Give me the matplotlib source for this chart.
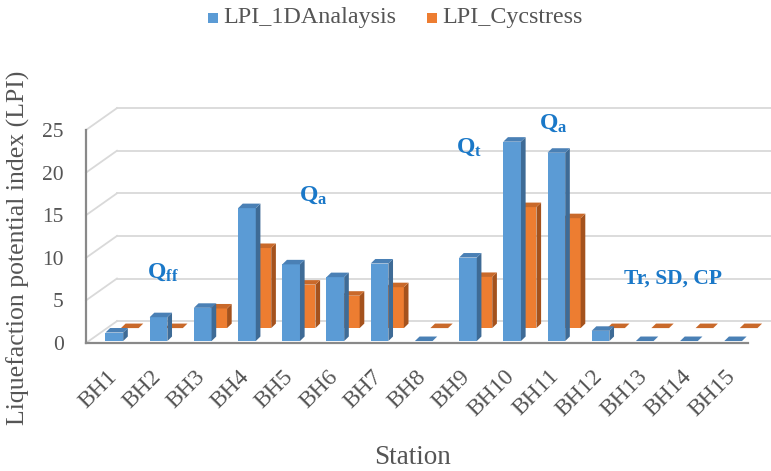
import matplotlib
matplotlib.use("Agg")
import matplotlib.pyplot as plt
from matplotlib.patches import Polygon, Rectangle
from matplotlib.lines import Line2D
from matplotlib.transforms import offset_copy

plt.rcParams['font.family'] = ['Liberation Serif', 'DejaVu Serif']
plt.rcParams['mathtext.fontset'] = 'custom'
plt.rcParams['mathtext.rm'] = 'Liberation Serif'
plt.rcParams['mathtext.bf'] = 'Liberation Serif:bold'
plt.rcParams['mathtext.it'] = 'Liberation Serif:italic'

# ---- data ----
stations = ["BH1", "BH2", "BH3", "BH4", "BH5", "BH6", "BH7", "BH8",
            "BH9", "BH10", "BH11", "BH12", "BH13", "BH14", "BH15"]
lpi_1d = [1.0, 2.8, 3.9, 15.6, 9.0, 7.5, 9.1, 0.0, 9.8, 23.4, 22.1, 1.2, 0.0, 0.0, 0.0]
lpi_cyc = [0.0, 0.0, 2.3, 9.4, 5.1, 3.8, 4.8, 0.0, 6.0, 14.2, 12.9, 0.0, 0.0, 0.0, 0.0]
series_names = ["LPI_1DAnalaysis", "LPI_Cycstress"]
y_ticks = [0, 5, 10, 15, 20, 25]
zones = [(r"$\mathbf{Q_{ff}}$", 0.76, 7.7),
         (r"$\mathbf{Q_{a}}$", 4.2, 16.7),
         (r"$\mathbf{Q_{t}}$", 7.75, 22.3),
         (r"$\mathbf{Q_{a}}$", 9.64, 25.2)]
zone_plain = ("Tr, SD, CP", 11.55, 7.0)

# ---- style ----
W, H = 771, 471
GRID = "#d9d9d9"
AXIS = "#898989"
TEXT = "#555555"
ANNOT = "#1a78c8"
BLUE = ("#5b9bd5", "#3e6b96", "#4a80b5")    # front, side, top
ORANGE = ("#ed7d31", "#a4521d", "#c9692a")

# 3D projection offsets, in data units (category, value)
WALL = (0.701, 2.57)      # full depth of the plot box
ROW_FRONT = (0.03, 0.23)  # front row (first series)
ROW_BACK = (0.38, 1.75)   # back row (second series)
BAR_DEPTH = (0.105, 0.53)
BAR_W = 0.40

fig = plt.figure(figsize=(W / 100, H / 100), dpi=100)
ax = fig.add_axes([86 / W, (H - 343) / H, (748 - 86) / W, (343 - 130) / H])
ax.set_xlim(-0.611, 14.366)
ax.set_ylim(0, 25)
ax.patch.set_alpha(0)
for s in ("top", "right"):
    ax.spines[s].set_visible(False)
for s in ("left", "bottom"):
    ax.spines[s].set_color(AXIS)
    ax.spines[s].set_linewidth(1.6)
    ax.spines[s].set_zorder(1)
ax.set_xticks([])
ax.set_yticks(y_ticks)
ax.set_yticklabels([str(v) for v in y_ticks], fontsize=15.5, color=TEXT)
ax.tick_params(axis="y", length=0, pad=16)

x0, x1 = ax.get_xlim()
# back wall and side wall gridlines
for v in y_ticks:
    ax.add_line(Line2D([x0, x0 + WALL[0]], [v, v + WALL[1]], color=GRID,
                       lw=1.3, clip_on=False, zorder=0))
    ax.add_line(Line2D([x0 + WALL[0], x1 + WALL[0] + 0.5], [v + WALL[1], v + WALL[1]],
                       color=GRID, lw=1.3, clip_on=False, zorder=0))


def draw_bar(cx, base, h, colors, z):
    front, side, top = colors
    dx, dy = BAR_DEPTH
    l, r = cx - BAR_W / 2, cx + BAR_W / 2
    t = base + h
    if h > 0:
        ax.add_patch(Rectangle((l, base), BAR_W, h, facecolor=front,
                               edgecolor="none", clip_on=False, zorder=z))
        ax.add_patch(Polygon([(r, base), (r + dx, base + dy), (r + dx, t + dy), (r, t)],
                             closed=True, facecolor=side, edgecolor="none",
                             clip_on=False, zorder=z))
    ax.add_patch(Polygon([(l, t), (r, t), (r + dx, t + dy), (l + dx, t + dy)],
                         closed=True, facecolor=top, edgecolor="none",
                         clip_on=False, zorder=z))


for i in range(len(stations)):
    draw_bar(i + ROW_BACK[0], ROW_BACK[1], lpi_cyc[i], ORANGE, 2)
    draw_bar(i + ROW_FRONT[0], ROW_FRONT[1], lpi_1d[i], BLUE, 3)

# category labels
lab_tr = offset_copy(ax.transData, fig=fig, x=-5, y=-16.5, units="points")
for i, name in enumerate(stations):
    ax.text(i, 0, name, transform=lab_tr, rotation=45, ha="right", va="top",
            rotation_mode="anchor", fontsize=17, color=TEXT)

# geological unit annotations
for txt, xv, yv in zones:
    ax.text(xv, yv, txt, fontsize=17, color=ANNOT, ha="left", va="baseline",
            zorder=5)
ax.text(zone_plain[1], zone_plain[2], zone_plain[0], fontsize=15.5,
        fontweight="bold", color=ANNOT, ha="left", va="baseline", zorder=5)

# axis titles
fig.text(18 / W, 1 - 248 / H, "Liquefaction potential index (LPI)", rotation=90,
         ha="center", va="center", fontsize=18.5, color=TEXT)
fig.text(413 / W, 1 - 458 / H, "Station", ha="center", va="center",
         fontsize=19.5, color=TEXT)

# legend
for (sx, tx), name, col in zip([(208, 223), (427, 442)], series_names,
                               [BLUE[0], ORANGE[0]]):
    fig.patches.append(Rectangle((sx / W, 1 - 23 / H), 10 / W, 10 / H,
                                 transform=fig.transFigure, facecolor=col,
                                 edgecolor="none"))
    fig.text(tx / W, 1 - 17 / H, name, ha="left", va="center", fontsize=17.3,
             color=TEXT)

fig.savefig("out.png", dpi=100, facecolor="white")
